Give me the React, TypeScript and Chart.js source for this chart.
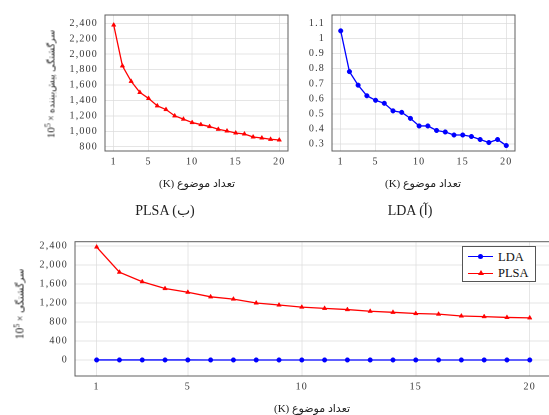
import React, { useEffect, useRef } from "react";
import { Chart, registerables } from "chart.js";

Chart.register(...registerables);

// ---- data ----
const topics = [1, 2, 3, 4, 5, 6, 7, 8, 9, 10, 11, 12, 13, 14, 15, 16, 17, 18, 19, 20];
const plsaPerplexity = [2378, 1848, 1648, 1504, 1426, 1330, 1282, 1200, 1157, 1113, 1087, 1061, 1026, 1004, 978, 965, 926, 913, 896, 887];
const ldaPerplexity = [1.05, 0.78, 0.69, 0.62, 0.59, 0.57, 0.52, 0.51, 0.47, 0.42, 0.42, 0.39, 0.38, 0.36, 0.36, 0.35, 0.33, 0.31, 0.33, 0.29];
const xTicks = [1, 5, 10, 15, 20];
const plsaYTicks = [800, 1000, 1200, 1400, 1600, 1800, 2000, 2200, 2400];
const ldaYTicks = [0.3, 0.4, 0.5, 0.6, 0.7, 0.8, 0.9, 1, 1.1];
const combinedYTicks = [0, 400, 800, 1200, 1600, 2000, 2400];

const xTitle = "(K) تعداد موضوع";
const yTitleLong = "سرگشتگی پیش‌بیننده";
const yTitleShort = "سرگشتگی";

const RED = "rgb(255,0,0)";
const BLUE = "rgb(0,0,255)";
const GRID = "#dcdcdc";
const FRAME = "#5e5e5e";
const TICK_FONT = { family: "'Liberation Serif', 'DejaVu Serif', serif", size: 10 };

const framePlugin = {
  id: "frame",
  beforeDraw(chart: any) {
    try { chart.ctx.letterSpacing = "1.2px"; } catch (e) {}
  },
  afterDraw(chart: any) {
    const { ctx, chartArea } = chart;
    const { left, top, right, bottom } = chartArea;
    ctx.save();
    ctx.strokeStyle = FRAME;
    ctx.lineWidth = 1;
    ctx.strokeRect(left, top, right - left, bottom - top);
    ctx.restore();
  },
};

function points(values: number[]) {
  return topics.map((k, i) => ({ x: k, y: values[i] }));
}

function plsaDataset() {
  return {
    label: "PLSA",
    data: points(plsaPerplexity),
    borderColor: RED,
    backgroundColor: RED,
    borderWidth: 1.3,
    pointStyle: "triangle",
    pointRadius: 2.6,
    pointBackgroundColor: RED,
    pointBorderColor: RED,
    pointBorderWidth: 0.5,
  };
}

function ldaDataset() {
  return {
    label: "LDA",
    data: points(ldaPerplexity),
    borderColor: BLUE,
    backgroundColor: BLUE,
    borderWidth: 1.3,
    pointStyle: "circle",
    pointRadius: 2.3,
    pointBackgroundColor: BLUE,
    pointBorderColor: BLUE,
    pointBorderWidth: 0.5,
  };
}

type Cfg = {
  datasets: any[];
  xMin: number;
  xMax: number;
  yMin: number;
  yMax: number;
  yTicks: number[];
  yWidth: number;
  xHeight: number;
  padding: { top: number; right: number; left: number; bottom: number };
  yFormat: (v: number) => string;
};

function buildConfig(c: Cfg): any {
  return {
    type: "line",
    data: { datasets: c.datasets },
    options: {
      animation: false,
      responsive: false,
      devicePixelRatio: 2,
      layout: { padding: c.padding },
      plugins: { legend: { display: false }, tooltip: { enabled: false }, title: { display: false } },
      scales: {
        x: {
          type: "linear",
          min: c.xMin,
          max: c.xMax,
          afterBuildTicks: (s: any) => {
            s.ticks = xTicks.map((v) => ({ value: v }));
          },
          afterFit: (s: any) => {
            s.height = c.xHeight;
          },
          grid: { color: GRID, lineWidth: 0.7, drawTicks: false },
          border: { display: false },
          ticks: {
            padding: 5,
            font: TICK_FONT,
            color: "#333",
            autoSkip: false,
            maxRotation: 0,
            callback: (v: number) => String(v),
          },
        },
        y: {
          type: "linear",
          min: c.yMin,
          max: c.yMax,
          afterBuildTicks: (s: any) => {
            s.ticks = c.yTicks.map((v) => ({ value: v }));
          },
          afterFit: (s: any) => {
            s.width = c.yWidth;
          },
          grid: { color: GRID, lineWidth: 0.7, drawTicks: false },
          border: { display: false },
          ticks: {
            padding: 7,
            font: TICK_FONT,
            color: "#333",
            autoSkip: false,
            callback: (v: number) => c.yFormat(v),
          },
        },
      },
    },
    plugins: [framePlugin],
  };
}

function ChartCanvas({ cfg, left, top, width, height }: { cfg: Cfg; left: number; top: number; width: number; height: number }) {
  const ref = useRef<HTMLCanvasElement | null>(null);
  useEffect(() => {
    if (!ref.current) return;
    const chart = new Chart(ref.current, buildConfig(cfg));
    return () => chart.destroy();
  }, []);
  return (
    <canvas
      ref={ref}
      width={width}
      height={height}
      style={{ position: "absolute", left, top, width, height }}
    />
  );
}

const fmtThousands = (v: number) => v.toLocaleString("en-US");
const fmtPlain = (v: number) => String(v);

const labelFont = "'Liberation Serif', 'DejaVu Sans', serif";

function YTitle({ cx, cy, text, size }: { cx: number; cy: number; text: string; size: number }) {
  return (
    <div
      style={{
        position: "absolute",
        left: cx,
        top: cy,
        transform: "translate(-50%, -50%) rotate(-90deg)",
        whiteSpace: "nowrap",
        fontFamily: labelFont,
        fontSize: size,
        lineHeight: "14px",
        color: "#222",
        direction: "ltr",
      }}
    >
      <span style={{ fontSize: size + 1.5 }}>10</span>
      <span style={{ fontSize: 8, verticalAlign: 4 }}>5</span> × {text}
    </div>
  );
}

function Label({ cx, cy, text, size }: { cx: number; cy: number; text: string; size: number }) {
  return (
    <div
      style={{
        position: "absolute",
        left: cx,
        top: cy,
        transform: "translate(-50%, -50%)",
        whiteSpace: "nowrap",
        fontFamily: labelFont,
        fontSize: size,
        lineHeight: "16px",
        color: "#222",
        direction: "ltr",
      }}
    >
      {text}
    </div>
  );
}

function Legend() {
  const row = (label: string, color: string, tri: boolean, top: number) => (
    <div style={{ position: "absolute", left: 5, top, height: 14, width: 70 }}>
      <div style={{ position: "absolute", left: 0, top: 6.5, width: 25, height: 1.3, background: color }} />
      {tri ? (
        <div
          style={{
            position: "absolute",
            left: 9.5,
            top: 4,
            width: 0,
            height: 0,
            borderLeft: "3px solid transparent",
            borderRight: "3px solid transparent",
            borderBottom: `5px solid ${color}`,
          }}
        />
      ) : (
        <div style={{ position: "absolute", left: 10, top: 4.7, width: 5, height: 5, borderRadius: 3, background: color }} />
      )}
      <div
        style={{
          position: "absolute",
          left: 30,
          top: 0,
          fontFamily: "'Liberation Serif', serif",
          fontSize: 12.5,
          lineHeight: "14px",
          color: "#111",
        }}
      >
        {label}
      </div>
    </div>
  );
  return (
    <div
      style={{
        position: "absolute",
        left: 462,
        top: 246,
        width: 74,
        height: 36,
        border: "1px solid #555",
        background: "#fff",
        boxSizing: "border-box",
      }}
    >
      {row("LDA", BLUE, false, 2.5)}
      {row("PLSA", RED, true, 19)}
    </div>
  );
}

const plsaCfg: Cfg = {
  datasets: [plsaDataset()],
  xMin: 0,
  xMax: 21,
  yMin: 744,
  yMax: 2508,
  yTicks: plsaYTicks,
  yWidth: 105,
  xHeight: 44,
  padding: { top: 15, right: 7, left: 0, bottom: 0 },
  yFormat: fmtThousands,
};

const ldaCfg: Cfg = {
  datasets: [ldaDataset()],
  xMin: 0,
  xMax: 21,
  yMin: 0.254,
  yMax: 1.155,
  yTicks: ldaYTicks,
  yWidth: 42,
  xHeight: 44,
  padding: { top: 15, right: 34, left: 0, bottom: 0 },
  yFormat: fmtPlain,
};

const combinedCfg: Cfg = {
  datasets: [ldaDataset(), plsaDataset()],
  xMin: 0.05,
  xMax: 20.95,
  yMin: -337,
  yMax: 2490,
  yTicks: combinedYTicks,
  yWidth: 75,
  xHeight: 39,
  padding: { top: 16.7, right: 8.6, left: 0, bottom: 0 },
  yFormat: fmtThousands,
};

export default function App() {
  return (
    <div
      style={{
        position: "fixed",
        left: 0,
        top: 0,
        width: 549,
        height: 415,
        overflow: "hidden",
        background: "#fff",
      }}
    >
      <ChartCanvas cfg={plsaCfg} left={0} top={0} width={295} height={195} />
      <ChartCanvas cfg={ldaCfg} left={290} top={0} width={259} height={195} />
      <ChartCanvas cfg={combinedCfg} left={0} top={225} width={560} height={190} />

      <YTitle cx={50} cy={84} text={yTitleLong} size={9.5} />
      <YTitle cx={19} cy={304} text={yTitleShort} size={10} />

      <Label cx={197} cy={183} text={xTitle} size={11} />
      <Label cx={423} cy={183} text={xTitle} size={11} />
      <Label cx={312} cy={408} text={xTitle} size={11} />

      <Label cx={165} cy={211} text="PLSA (ب)" size={14} />
      <Label cx={410} cy={211} text="LDA (آ)" size={14} />

      <Legend />
    </div>
  );
}
